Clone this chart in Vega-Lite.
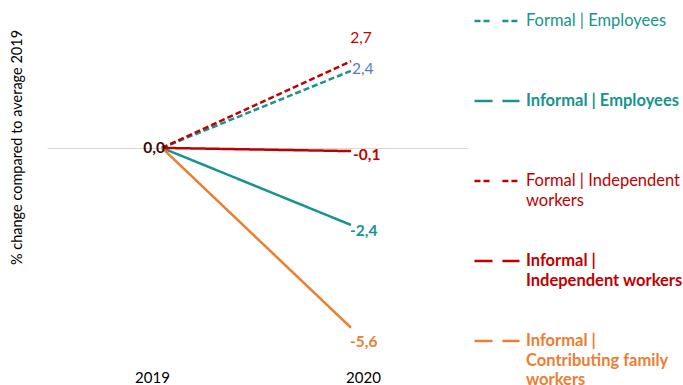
{
  "$schema": "https://vega.github.io/schema/vega-lite/v6.json",
  "width": 421,
  "height": 350,
  "autosize": {"type": "none"},
  "padding": {"left": 47, "top": 5, "right": 215, "bottom": 30},
  "background": "white",
  "config": {
    "view": {"stroke": null},
    "font": "Lato",
    "locale": {"number": {"decimal": ",", "thousands": ".", "grouping": [3], "currency": ["", ""], "minus": "-"}}
  },
  "data": {
    "values": [
      {"series": "Formal | Employees", "year": 2019, "value": 0.0},
      {"series": "Formal | Employees", "year": 2020, "value": 2.4},
      {"series": "Informal | Employees", "year": 2019, "value": 0.0},
      {"series": "Informal | Employees", "year": 2020, "value": -2.4},
      {"series": "Formal | Independent workers", "year": 2019, "value": 0.0},
      {"series": "Formal | Independent workers", "year": 2020, "value": 2.7},
      {"series": "Informal | Independent workers", "year": 2019, "value": 0.0},
      {"series": "Informal | Independent workers", "year": 2020, "value": -0.1},
      {"series": "Informal | Contributing family workers", "year": 2019, "value": 0.0},
      {"series": "Informal | Contributing family workers", "year": 2020, "value": -5.6}
    ]
  },
  "encoding": {
    "x": {
      "field": "year", "type": "quantitative",
      "scale": {"domain": [2018.392, 2020.619], "nice": false, "zero": false},
      "axis": {
        "values": [2019, 2020], "format": "d", "title": null, "grid": false, "ticks": false, "domain": false,
        "labelFontSize": 15, "labelColor": "#000000", "labelPadding": 15,
        "labelOffset": {"condition": {"test": "datum.value == 2019", "value": -10}, "value": 12}
      }
    },
    "y": {
      "field": "value", "type": "quantitative",
      "scale": {"domain": [-6.45, 4.45], "nice": false, "zero": false},
      "axis": {
        "values": [0], "labels": false, "ticks": false, "domain": false, "grid": true,
        "gridColor": "#d9d9d9", "gridWidth": 1,
        "title": "% change compared to average 2019", "titleFontSize": 14.5, "titleFontWeight": "normal",
        "titleColor": "#000000", "titleX": -30, "titleY": 142, "titleAlign": "center", "titleBaseline": "middle", "titleAngle": -90
      }
    }
  },
  "layer": [
    {
      "mark": {"type": "line", "strokeWidth": 2.5},
      "encoding": {
        "color": {
          "field": "series", "type": "nominal",
          "scale": {
            "domain": ["Formal | Employees", "Informal | Employees", "Formal | Independent workers", "Informal | Independent workers", "Informal | Contributing family workers"],
            "range": ["#16948e", "#16948e", "#c00000", "#c00000", "#ed7d31"]
          },
          "legend": {
            "title": null, "orient": "none", "legendX": 426, "legendY": -8,
            "symbolType": "M-1,0H-0.2M0.24,0H1", "symbolSize": 2025, "symbolStrokeWidth": 2.5,
            "symbolFillColor": "transparent",
            "labelFontSize": 16.5, "labelLimit": 300, "labelOffset": 5,
            "gridAlign": "all", "rowPadding": 8,
            "labelExpr": "datum.label == 'Formal | Independent workers' ? ['Formal | Independent', 'workers'] : datum.label == 'Informal | Independent workers' ? ['Informal |', 'Independent workers'] : datum.label == 'Informal | Contributing family workers' ? ['Informal |', 'Contributing family', 'workers'] : datum.label",
            "encode": {
              "labels": {"update": {
                "fill": {"signal": "scale('color', datum.value)"},
                "fontWeight": {"signal": "indexof(datum.value, 'Informal') == 0 ? 'bold' : 'normal'"},
                "lineHeight": {"value": 19.5}
              }}
            }
          }
        },
        "strokeDash": {
          "field": "series", "type": "nominal",
          "scale": {
            "domain": ["Formal | Employees", "Informal | Employees", "Formal | Independent workers", "Informal | Independent workers", "Informal | Contributing family workers"],
            "range": [[6, 3], [1, 0], [6, 3], [1, 0], [1, 0]]
          },
          "legend": null
        }
      }
    },
    {
      "transform": [{"filter": "datum.series == 'Formal | Employees' && datum.year == 2020"}],
      "mark": {"type": "text", "align": "left", "baseline": "middle", "dx": 1, "dy": -2, "fontSize": 15.5, "color": "#4f7bd0"},
      "encoding": {"text": {"field": "value", "type": "quantitative", "format": ".1f"}}
    },
    {
      "transform": [{"filter": "datum.series == 'Formal | Independent workers' && datum.year == 2020"}],
      "mark": {"type": "text", "align": "center", "baseline": "middle", "dx": 10, "dy": -23, "fontSize": 15.5, "color": "#c00000"},
      "encoding": {"text": {"field": "value", "type": "quantitative", "format": ".1f"}}
    },
    {
      "transform": [{"filter": "datum.series == 'Informal | Employees' && datum.year == 2020"}],
      "mark": {"type": "text", "align": "left", "baseline": "middle", "dx": -1, "dy": 6, "fontSize": 15.5, "fontWeight": "bold", "color": "#16948e"},
      "encoding": {"text": {"field": "value", "type": "quantitative", "format": ".1f"}}
    },
    {
      "transform": [{"filter": "datum.series == 'Informal | Independent workers' && datum.year == 2020"}],
      "mark": {"type": "text", "align": "left", "baseline": "middle", "dx": 2, "dy": 4, "fontSize": 15.5, "fontWeight": "bold", "color": "#c00000"},
      "encoding": {"text": {"field": "value", "type": "quantitative", "format": ".1f"}}
    },
    {
      "transform": [{"filter": "datum.series == 'Informal | Contributing family workers' && datum.year == 2020"}],
      "mark": {"type": "text", "align": "left", "baseline": "middle", "dx": -1, "dy": 14, "fontSize": 15.5, "fontWeight": "bold", "color": "#ed7d31"},
      "encoding": {"text": {"field": "value", "type": "quantitative", "format": ".1f"}}
    },
    {
      "transform": [{"filter": "datum.series == 'Informal | Independent workers' && datum.year == 2019"}],
      "mark": {"type": "text", "align": "right", "baseline": "middle", "dx": 3, "dy": 0, "fontSize": 15.5, "fontWeight": "bold", "color": "#3a0a0a"},
      "encoding": {"text": {"field": "value", "type": "quantitative", "format": ".1f"}}
    }
  ]
}
